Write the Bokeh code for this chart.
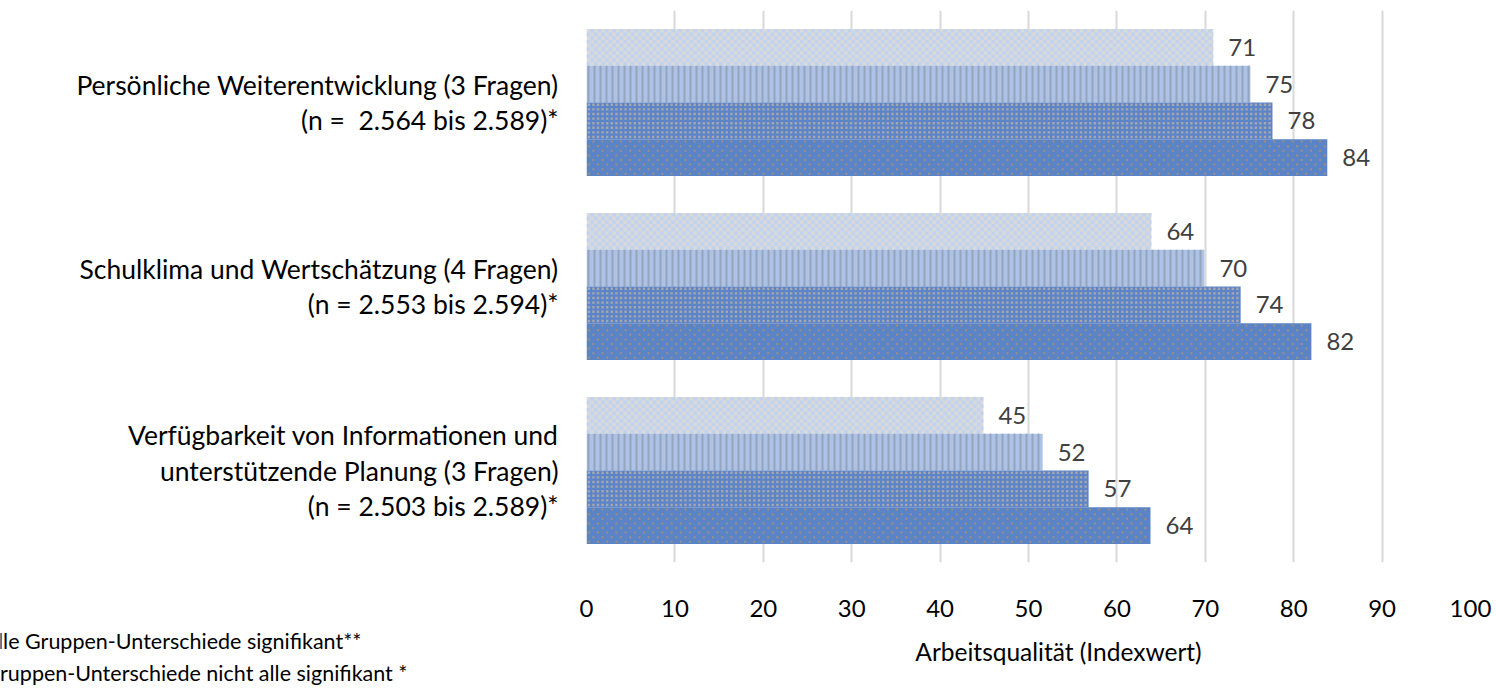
from bokeh.plotting import figure
from bokeh.layouts import column
from bokeh.models import FactorRange, Range1d, ColumnDataSource, Label, FixedTicker
from bokeh.transform import dodge
from bokeh.core.properties import value
from bokeh.embed import file_html
from bokeh.resources import INLINE

# ---------------- data ----------------
categories = [
    "Persönliche Weiterentwicklung (3 Fragen)\n(n = \u00a02.564 bis 2.589)*",
    "Schulklima und Wertschätzung (4 Fragen)\n(n = 2.553 bis 2.594)*",
    "Verfügbarkeit von Informationen und\nunterstützende Planung (3 Fragen)\n(n = 2.503 bis 2.589)*",
]
series_names = ["Gruppe 1", "Gruppe 2", "Gruppe 3", "Gruppe 4"]
values_g1 = [70.9, 63.9, 44.9]
values_g2 = [75.1, 69.9, 51.6]
values_g3 = [77.6, 74.0, 56.8]
values_g4 = [83.8, 82.0, 63.8]
x_ticks = [0, 10, 20, 30, 40, 50, 60, 70, 80, 90, 100]
x_title = "Arbeitsqualität (Indexwert)"
notes = ["Alle Gruppen-Unterschiede signifikant**",
         "Gruppen-Unterschiede nicht alle signifikant *"]

FONT = "Lato"

# ---------------- layout constants ----------------
FRAME_W, FRAME_H = 884, 552
PX_PER_X = FRAME_W / 100.0
PX_PER_Y = FRAME_H / len(categories)
BAR_H = 0.2
BAR_PX = BAR_H * PX_PER_Y

all_values = [values_g1, values_g2, values_g3, values_g4]
data = {"cat": categories}
for name, vals in zip(series_names, all_values):
    data[name] = vals
    data[name + "_lbl"] = [f"{v:.0f}" for v in vals]
src = ColumnDataSource(data)

p = figure(width=1496, height=626,
           y_range=FactorRange(factors=list(reversed(categories)), range_padding=0),
           x_range=Range1d(0, 100),
           output_backend="svg", toolbar_location=None,
           min_border_left=586, min_border_right=26,
           min_border_top=10, min_border_bottom=64)
p.outline_line_color = None


def cells(kind, length):
    out = []
    if kind == "checker":
        s = BAR_PX / 10
        for r in range(10):
            c = 0
            while c * s < length:
                if (r + c) % 2 == 0:
                    out.append((c * s, min((c + 1) * s, length), r * s, (r + 1) * s))
                c += 1
    elif kind == "stripes":
        per, w = 6.0, 2.0
        k = 0
        while k * per + 1 + w <= length:
            out.append((k * per + 1, k * per + 1 + w, 0, BAR_PX))
            k += 1
    elif kind == "dense":
        per = BAR_PX / 8
        d = 2.4
        for r in range(8):
            k = 0
            while k * per + (per + d) / 2 <= length:
                x0 = k * per + (per - d) / 2
                out.append((x0, x0 + d, r * per + (per - d) / 2, r * per + (per + d) / 2))
                k += 1
    elif kind == "sparse":
        per = BAR_PX / 8
        d = 2.0
        for r in range(8):
            sh = per if r % 2 else 0.0
            k = 0
            while sh + k * 2 * per + (per + d) / 2 <= length:
                x0 = sh + k * 2 * per + (per - d) / 2
                out.append((x0, x0 + d, r * per + (per - d) / 2, r * per + (per + d) / 2))
                k += 1
    return out


def pattern_source(vals, offset, kind):
    L, R, B, T = [], [], [], []
    n = len(categories)
    for i, v in enumerate(vals):
        y_bot = (n - 1 - i) + 0.5 + offset - BAR_H / 2
        for (x0, x1, y0, y1) in cells(kind, v * PX_PER_X):
            L.append(x0 / PX_PER_X)
            R.append(x1 / PX_PER_X)
            B.append(y_bot + y0 / PX_PER_Y)
            T.append(y_bot + y1 / PX_PER_Y)
    return ColumnDataSource(dict(left=L, right=R, bottom=B, top=T))


styles = [
    dict(offset=0.3, fill="#D9D9D9", pat="#C2D3EF", kind="checker"),
    dict(offset=0.1, fill="#ADC2E7", pat="#96A4BC", kind="stripes"),
    dict(offset=-0.1, fill="#5C85C9", pat="#A6A6AC", kind="dense"),
    dict(offset=-0.3, fill="#5B84C7", pat="#9E8E84", kind="sparse"),
]

for name, vals, st in zip(series_names, all_values, styles):
    ypos = dodge("cat", st["offset"], range=p.y_range)
    p.hbar(y=ypos, left=0, right=name, height=BAR_H, source=src,
           fill_color=st["fill"], line_color=None)
    p.quad(left="left", right="right", bottom="bottom", top="top",
           source=pattern_source(vals, st["offset"], st["kind"]),
           fill_color=st["pat"], line_color=None)
    p.text(x=name, y=ypos, text=name + "_lbl", source=src,
           x_offset=15, text_align="left", text_baseline="middle",
           text_font=value(FONT), text_font_size="24px", text_color="#404040")

# grid
p.ygrid.grid_line_color = None
p.xgrid.grid_line_color = "#D9D9D9"
p.xgrid.grid_line_width = 2
p.xgrid.ticker = FixedTicker(ticks=x_ticks)

# x axis
p.xaxis.ticker = FixedTicker(ticks=x_ticks)
p.xaxis.axis_line_color = None
p.xaxis.major_tick_line_color = None
p.xaxis.minor_tick_line_color = None
p.xaxis.major_label_text_font = FONT
p.xaxis.major_label_text_font_size = "24px"
p.xaxis.major_label_text_color = "black"
p.xaxis.major_label_standoff = 31

# y axis
p.yaxis.axis_line_color = None
p.yaxis.major_tick_line_color = None
p.yaxis.minor_tick_line_color = None
p.yaxis.major_label_text_font = FONT
p.yaxis.major_label_text_font_size = "26.5px"
p.yaxis.major_label_text_color = "black"
p.yaxis.major_label_text_line_height = 1.1
p.yaxis.major_label_standoff = 22

# bottom strip: axis title & notes
q = figure(width=1496, height=64, x_axis_type=None, y_axis_type=None,
           x_range=Range1d(0, 1), y_range=Range1d(0, 1),
           output_backend="svg", toolbar_location=None,
           min_border=0)
q.outline_line_color = None
q.grid.visible = False
try:
    q.frame_align = False
except Exception:
    pass
q.add_layout(Label(x=1058, y=39, x_units="screen", y_units="screen", text=x_title,
                   text_align="center", text_baseline="middle",
                   text_font=FONT, text_font_size="24.5px", text_color="black"))
for t, xs, ys in zip(notes, [-17, -16], [50, 18]):
    q.add_layout(Label(x=xs, y=ys, x_units="screen", y_units="screen", text=t,
                       text_align="left", text_baseline="middle",
                       text_font=FONT, text_font_size="21.5px", text_color="black"))

layout = column(p, q, spacing=0)
open("out.html", "w").write(file_html(layout, INLINE))
